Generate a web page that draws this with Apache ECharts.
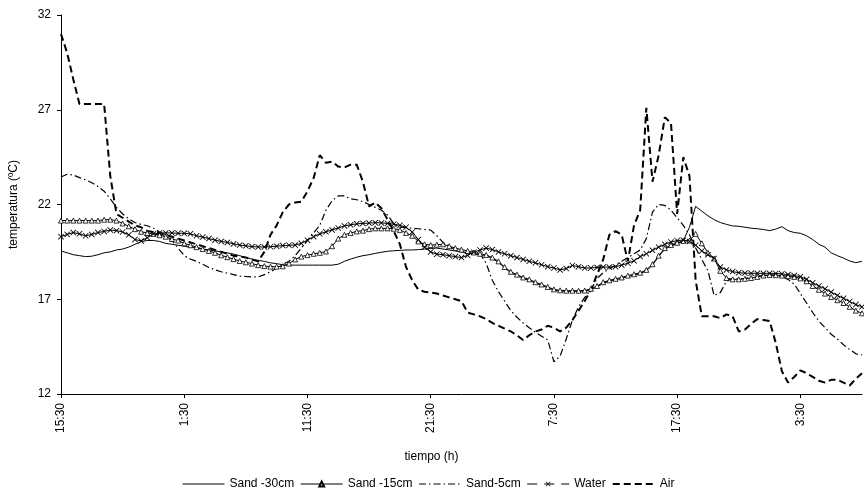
<!DOCTYPE html>
<html><head><meta charset="utf-8">
<script src="https://cdn.jsdelivr.net/npm/echarts@6/dist/echarts.min.js"></script>
<style>html,body{margin:0;padding:0;background:#fff}#c{width:864px;height:492px}</style>
</head><body><div id="c"></div>
<script>
// time axis: hours after 15:30, one reading every half hour
const stepHours = 0.5;
const tickLabels = ['15:30','1:30','11:30','21:30','7:30','17:30','3:30'];
const seriesNames = ['Sand -30cm','Sand -15cm','Sand-5cm','Water','Air'];

const sand30 = [
 19.55,19.45,19.35,19.3,19.25,19.27,19.35,19.45,19.5,19.6,
 19.65,19.75,19.9,20.04,20.1,20.1,20.05,19.95,19.9,19.85,
 19.8,19.75,19.7,19.65,19.6,19.55,19.5,19.45,19.38,19.3,
 19.2,19.12,19.05,19.0,18.92,18.88,18.82,18.8,18.8,18.8,
 18.8,18.8,18.8,18.8,18.8,18.85,19.0,19.12,19.22,19.3,
 19.35,19.42,19.48,19.53,19.56,19.58,19.6,19.6,19.62,19.65,
 19.68,19.7,19.65,19.6,19.55,19.5,19.45,19.4,19.35,19.3,
 19.15,18.95,18.65,18.4,18.25,18.1,18.0,17.85,17.73,17.6,
 17.48,17.43,17.42,17.42,17.42,17.43,17.5,17.65,17.85,17.95,
 18.03,18.1,18.2,18.27,18.35,18.5,18.8,19.25,19.65,19.8,
 19.93,20.1,20.8,21.9,21.65,21.4,21.2,21.05,20.95,20.87,
 20.85,20.8,20.75,20.72,20.68,20.62,20.7,20.83,20.62,20.52,
 20.48,20.35,20.15,19.9,19.75,19.45,19.3,19.17,19.02,18.93,
 19.0];

const sand15 = [
 21.15,21.15,21.15,21.15,21.15,21.15,21.15,21.2,21.2,21.15,
 21.0,20.85,20.7,20.56,20.5,20.45,20.38,20.3,20.18,20.1,
 19.95,19.85,19.75,19.65,19.55,19.45,19.32,19.22,19.12,19.02,
 18.95,18.88,18.8,18.75,18.72,18.72,18.74,18.88,19.1,19.25,
 19.33,19.4,19.45,19.52,19.8,20.2,20.4,20.5,20.58,20.62,
 20.7,20.74,20.74,20.74,20.72,20.66,20.5,20.35,20.05,19.9,
 19.86,19.88,19.9,19.8,19.7,19.62,19.55,19.47,19.4,19.34,
 19.2,19.0,18.7,18.45,18.3,18.15,18.05,17.9,17.78,17.65,
 17.52,17.47,17.45,17.45,17.45,17.46,17.55,17.7,17.9,18.0,
 18.08,18.15,18.25,18.32,18.4,18.55,18.85,19.3,19.7,19.86,
 19.98,20.08,20.1,20.45,19.95,19.45,19.15,18.5,18.12,18.05,
 18.05,18.08,18.12,18.18,18.25,18.28,18.27,18.25,18.22,18.18,
 18.1,17.95,17.7,17.5,17.3,17.12,16.95,16.8,16.6,16.4,
 16.26];

const sand5 = [
 23.45,23.6,23.55,23.42,23.3,23.15,22.95,22.7,22.3,21.85,
 21.5,21.25,21.05,20.95,20.88,20.75,20.55,20.3,20.1,19.7,
 19.3,19.12,19.0,18.85,18.68,18.55,18.45,18.38,18.3,18.22,
 18.2,18.18,18.18,18.3,18.45,18.65,18.85,19.0,19.3,19.7,
 20.1,20.5,20.9,21.7,22.2,22.45,22.45,22.3,22.25,22.15,
 22.0,21.85,21.7,21.45,21.0,20.8,20.78,20.75,20.72,20.68,
 20.65,20.35,20.0,19.8,19.6,19.5,19.45,19.42,19.4,18.9,
 18.0,17.4,16.9,16.4,16.05,15.75,15.5,15.25,15.05,14.85,
 13.7,14.0,14.9,15.9,16.6,17.1,17.5,18.1,18.4,18.6,
 18.8,19.0,19.2,19.4,19.6,20.2,21.6,22.0,21.95,21.7,
 21.3,20.9,20.4,19.7,19.1,18.5,17.2,17.35,17.95,18.1,
 18.08,18.1,18.15,18.2,18.25,18.28,18.27,18.2,18.05,17.8,
 17.3,16.8,16.3,15.85,15.5,15.15,14.9,14.6,14.35,14.12,
 14.06];

const water = [
 20.3,20.42,20.52,20.45,20.35,20.42,20.52,20.58,20.65,20.62,
 20.55,20.4,20.15,20.08,20.25,20.45,20.5,20.5,20.5,20.48,
 20.48,20.45,20.35,20.28,20.2,20.12,20.05,20.0,19.92,19.86,
 19.82,19.78,19.76,19.76,19.77,19.8,19.83,19.85,19.86,19.95,
 20.12,20.3,20.45,20.56,20.66,20.76,20.87,20.93,20.98,21.0,
 21.02,21.04,21.03,21.0,20.96,20.9,20.8,20.55,20.15,19.75,
 19.5,19.38,19.35,19.3,19.25,19.2,19.32,19.48,19.6,19.7,
 19.62,19.5,19.4,19.3,19.2,19.1,19.0,18.92,18.82,18.72,
 18.65,18.55,18.62,18.78,18.72,18.65,18.65,18.68,18.7,18.7,
 18.72,18.8,18.9,19.03,19.25,19.4,19.58,19.75,19.9,20.02,
 20.1,20.12,20.05,19.85,19.55,19.35,19.15,18.7,18.55,18.46,
 18.4,18.38,18.37,18.37,18.37,18.37,18.36,18.34,18.3,18.25,
 18.19,18.05,17.87,17.7,17.55,17.38,17.2,17.05,16.88,16.72,
 16.6];

const air = [
 31.0,30.0,28.6,27.3,27.3,27.3,27.3,27.3,23.5,21.5,
 21.3,21.1,20.9,20.8,20.6,20.55,20.5,20.4,20.3,20.2,
 20.1,20.0,19.9,19.8,19.7,19.6,19.5,19.4,19.3,19.25,
 19.2,19.1,19.0,19.5,20.4,20.9,21.6,22.0,22.1,22.15,
 22.7,23.4,24.6,24.2,24.26,24.0,23.95,24.1,24.1,23.2,
 21.9,22.1,21.8,21.2,20.6,19.9,18.7,18.0,17.5,17.4,
 17.35,17.3,17.2,17.1,17.0,16.9,16.3,16.2,16.1,15.95,
 15.75,15.6,15.45,15.3,15.1,14.85,15.1,15.3,15.4,15.6,
 15.5,15.3,15.5,15.9,16.4,16.9,17.5,18.3,19.1,20.4,
 20.6,20.4,19.0,20.9,21.7,27.1,23.2,24.6,26.6,26.3,
 21.5,24.5,23.5,18.0,16.1,16.1,16.1,16.0,16.2,16.1,
 15.3,15.4,15.7,15.95,15.9,15.85,14.7,13.2,12.6,12.9,
 13.25,13.1,12.9,12.7,12.6,12.75,12.75,12.6,12.45,12.8,
 13.1];

const times = sand30.map((_, i) => i * stepHours);
const pairs = arr => arr.map((v, i) => [times[i], v]);

const FONT = "'Liberation Sans', Arial, sans-serif";
const xMark = 'path://M0,1L1,0L5,4L9,0L10,1L6,5L10,9L9,10L5,6L1,10L0,9L4,5Z';
const hideIcon = {opacity: 0};

const chart = echarts.init(document.getElementById('c'), null, {renderer: 'canvas'});
chart.setOption({
  animation: false,
  backgroundColor: '#fff',
  textStyle: {fontFamily: FONT, color: '#000'},
  grid: {left: 60, top: 15, right: 2, bottom: 98},
  legend: {
    left: 177, top: 473, itemWidth: 42, itemHeight: 6, itemGap: 6,
    textStyle: {fontFamily: FONT, fontSize: 12, color: '#000'},
    data: [
      {name: seriesNames[0], itemStyle: hideIcon, lineStyle: {width: 1}},
      {name: seriesNames[1], lineStyle: {width: 1}},
      {name: seriesNames[2], itemStyle: hideIcon, lineStyle: {width: 1.2}},
      {name: seriesNames[3], lineStyle: {width: 1, type: [10, 7]}},
      {name: seriesNames[4], itemStyle: hideIcon, lineStyle: {width: 2}}
    ]
  },
  xAxis: {
    type: 'value', min: 0, max: 65, interval: 10,
    name: 'tiempo (h)', nameLocation: 'middle', nameGap: 57,
    nameTextStyle: {fontFamily: FONT, fontSize: 12, color: '#000', padding: [0, 60, 0, 0]},
    axisLine: {lineStyle: {color: '#000', width: 1}},
    axisTick: {show: true, length: 4, lineStyle: {color: '#000'}},
    splitLine: {show: false},
    axisLabel: {
      rotate: 90, margin: 9, fontSize: 12, color: '#000', fontFamily: FONT,
      showMaxLabel: false,
      formatter: v => tickLabels[Math.round(v / 10)] || ''
    }
  },
  yAxis: {
    type: 'value', min: 12, max: 32, interval: 5,
    name: 'temperatura (ºC)', nameLocation: 'middle', nameGap: 41,
    nameTextStyle: {fontFamily: FONT, fontSize: 12, color: '#000'},
    axisLine: {show: true, lineStyle: {color: '#000', width: 1}},
    axisTick: {show: true, length: 4, lineStyle: {color: '#000'}},
    splitLine: {show: false},
    axisLabel: {margin: 10, fontSize: 12, color: '#000', fontFamily: FONT}
  },
  series: [
    {name: seriesNames[0], type: 'line', data: pairs(sand30), symbol: 'none',
     lineStyle: {color: '#000', width: 1}, itemStyle: {color: '#000'}},
    {name: seriesNames[1], type: 'line', data: pairs(sand15), symbol: 'triangle', symbolSize: 5,
     lineStyle: {color: '#000', width: 1},
     itemStyle: {color: '#fff', borderColor: '#000', borderWidth: 0.8}},
    {name: seriesNames[2], type: 'line', data: pairs(sand5), symbol: 'none',
     lineStyle: {color: '#000', width: 1.2, type: [7, 3, 1.5, 3]}, itemStyle: {color: '#000'}},
    {name: seriesNames[3], type: 'line', data: pairs(water), symbol: xMark, symbolSize: 6,
     lineStyle: {color: '#000', width: 1}, itemStyle: {color: '#000'}},
    {name: seriesNames[4], type: 'line', data: pairs(air), symbol: 'none',
     lineStyle: {color: '#000', width: 2, type: [7, 4]}, itemStyle: {color: '#000'}}
  ]
});
</script></body></html>
